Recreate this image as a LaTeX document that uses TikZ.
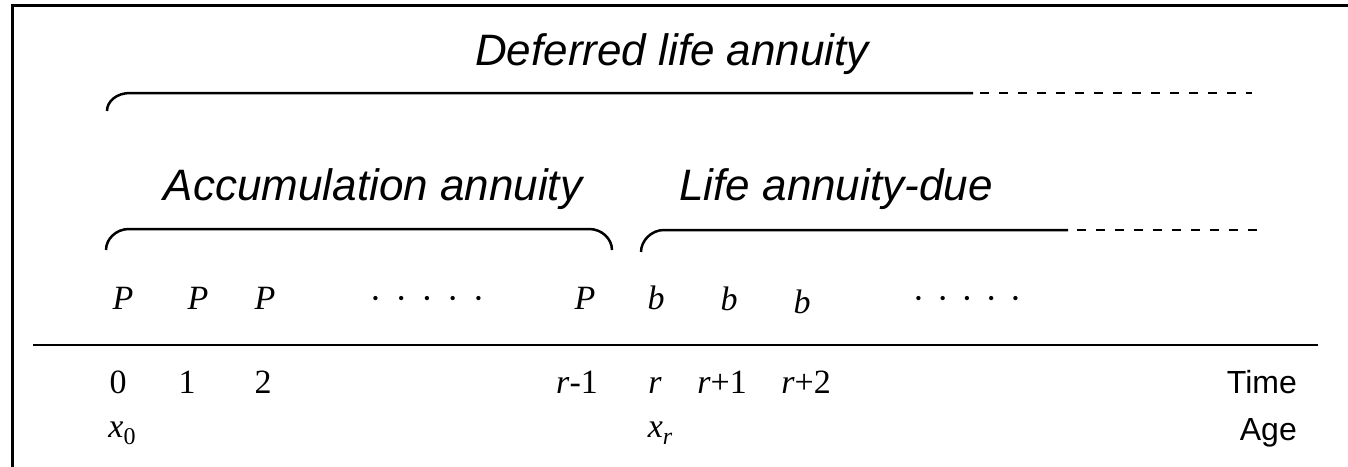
\documentclass[tikz,border=0pt]{standalone}
\usepackage{fontspec}
\setmainfont{Liberation Serif}
\setsansfont{Liberation Sans}
\begin{document}
\begin{tikzpicture}[x=1pt,y=-1pt,
  head/.style={font=\sffamily\itshape\fontsize{44}{52}\selectfont, inner sep=0pt, anchor=base},
  sym/.style={font=\fontsize{34}{40}\selectfont, inner sep=0pt, anchor=base},
  dotrow/.style={font=\fontsize{18}{20}\selectfont, inner sep=0pt, anchor=center},
  lab/.style={font=\sffamily\fontsize{32}{38}\selectfont, inner sep=0pt, anchor=base east},
  brace/.style={line width=2.5pt},
  dashpart/.style={line width=2.5pt, dash pattern=on 9pt off 10pt}]
\useasboundingbox (0,0) rectangle (1348,466);
% frame
\draw[line width=3pt] (12,470) -- (12,5) -- (1352,5);
% headings
\node[head] (def) at (672,65) {Deferred life annuity};
\node[head] (acc) at (373,200) {Accumulation annuity};
\node[head] (lad) at (836,200) {Life annuity-due};
% top brace
\coordinate (t0) at (107,111);
\coordinate (t1) at (973,93);
\coordinate (t2) at (885,93);
\coordinate (t3) at (1252,93);
\draw[brace] (t0) .. controls (107,101) and (117,93) .. (130,93) -- (t1);
\draw[dashpart] (t2) -- (t3);
% accumulation brace
\coordinate (a0) at (106,250);
\coordinate (a1) at (612,250);
\draw[brace] (a0) .. controls (106,239) and (116,229) .. (129,229) -- (589,229)
  .. controls (602,229) and (612,239) .. (a1);
% life annuity-due brace
\coordinate (l0) at (641,252);
\coordinate (l1) at (1068,230);
\coordinate (l2) at (1257,230);
\draw[brace] (l0) .. controls (641,241) and (651,230) .. (664,230) -- (l1);
\draw[dashpart] (1077,230) -- (l2);
% payments
\node[sym] (p0) at (123,309) {\textit{P}};
\node[sym] (p1) at (198,309) {\textit{P}};
\node[sym] (p2) at (265,309) {\textit{P}};
\node[dotrow] (pd) at (427,300) {•\kern19.5pt•\kern19.5pt•\kern19.5pt•\kern19.5pt•};
\node[sym] (pr) at (585,309) {\textit{P}};
\node[sym] (b0) at (656,309) {\textit{b}};
\node[sym] (b1) at (729,310) {\textit{b}};
\node[sym] (b2) at (802,313) {\textit{b}};
\node[dotrow] (bd) at (967,300) {•\kern18pt•\kern18pt•\kern18pt•\kern18pt•};
% time line
\coordinate (L0) at (33,345);
\coordinate (L1) at (1318,345);
\draw[line width=2.5pt] (L0) -- (L1);
% times
\node[sym] (n0) at (118,393) {0};
\node[sym] (n1) at (187,393) {1};
\node[sym] (n2) at (263,393) {2};
\node[sym] (nr1) at (577,393) {\textit{r}-1};
\node[sym] (nr) at (655,393) {\textit{r}};
\node[sym] (nr2) at (722,393) {\textit{r}+1};
\node[sym] (nr3) at (806,393) {\textit{r}+2};
\node[lab] (time) at (1297,393) {Time};
% ages
\node[sym] (x0) at (122,437) {\textit{x}\raisebox{-0.22em}{\fontsize{24}{28}\selectfont 0}};
\node[sym] (xr) at (660,437) {\textit{x}\raisebox{-0.22em}{\fontsize{24}{28}\selectfont\textit{r}}};
\node[lab] (age) at (1297,440) {Age};
\end{tikzpicture}
\end{document}
